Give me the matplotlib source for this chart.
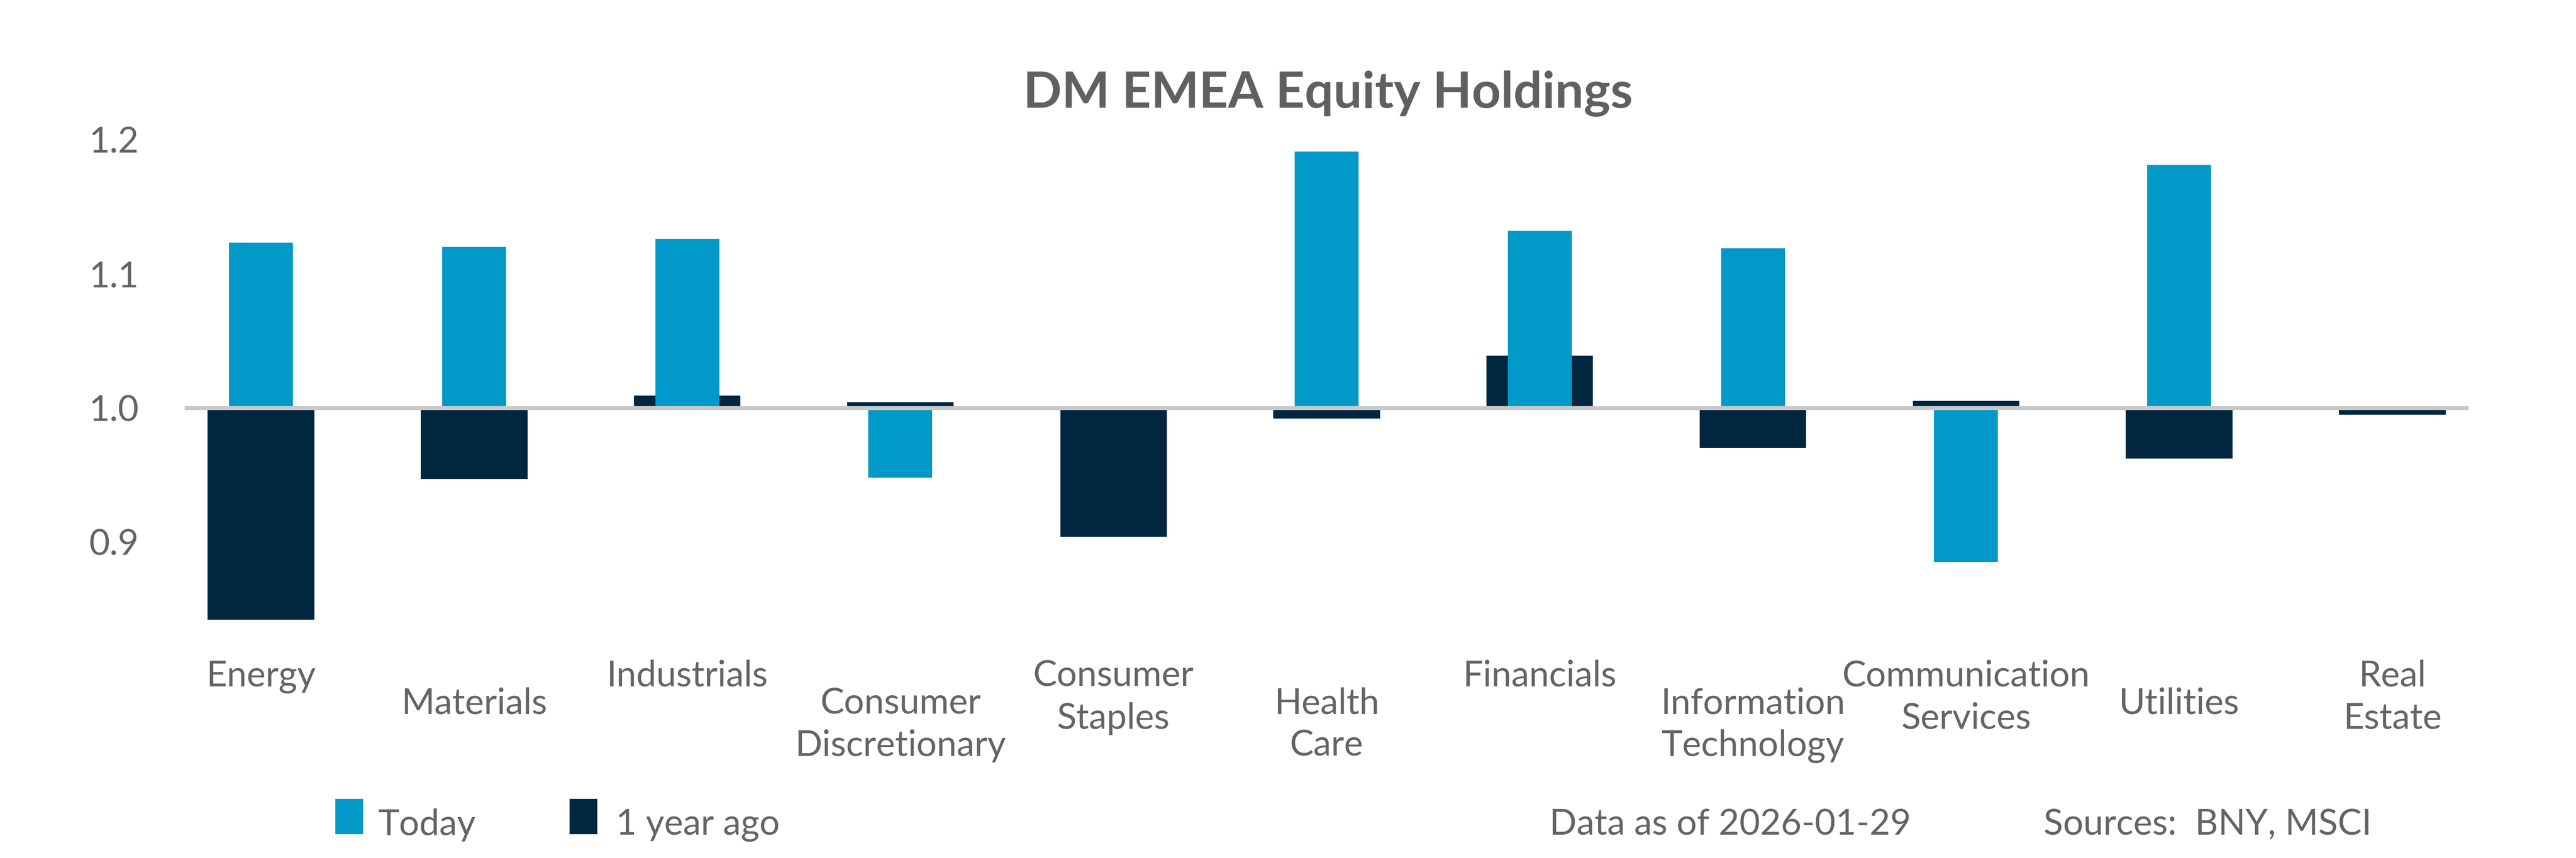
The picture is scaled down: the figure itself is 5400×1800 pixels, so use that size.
import numpy as np
import matplotlib.pyplot as plt
from matplotlib.patches import Rectangle
from matplotlib.transforms import blended_transform_factory

sectors = ["Energy", "Materials", "Industrials", "Consumer\nDiscretionary",
           "Consumer\nStaples", "Health\nCare", "Financials",
           "Information\nTechnology", "Communication\nServices", "Utilities",
           "Real\nEstate"]
today = [1.123, 1.120, 1.126, 0.948, 1.000, 1.191, 1.132, 1.119, 0.885, 1.181, 1.000]
year_ago = [0.842, 0.947, 1.009, 1.004, 0.904, 0.992, 1.039, 0.970, 1.005, 0.962, 0.995]
series_names = ["Today", "1 year ago"]
footer_date = "Data as of 2026-01-29"
footer_src = "Sources:  BNY, MSCI"

c_today = "#0099c8"
c_year = "#002640"
c_text = "#636466"

plt.rcParams['font.family'] = ['Lato', 'DejaVu Sans']

fig = plt.figure(figsize=(18, 6), dpi=300)
ax = fig.add_axes([0.0717, 0.2434, 0.8866, 0.5939])

x = np.arange(len(sectors))
base = 1.0
ax.bar(x, np.array(year_ago) - base, bottom=base, width=0.5, color=c_year, zorder=2)
ax.bar(x, np.array(today) - base, bottom=base, width=0.3, color=c_today, zorder=3)
ax.axhline(base, color="#c8c8c8", lw=2.0, zorder=4)

ax.set_xlim(-0.358, len(sectors) - 1 + 0.358)
ax.set_ylim(0.82, 1.2)
ax.set_yticks([0.9, 1.0, 1.1, 1.2])
ax.set_yticklabels(["0.9", "1.0", "1.1", "1.2"])
ax.set_xticks([])
ax.tick_params(axis='y', length=0, pad=23, labelsize=18, labelcolor=c_text)
for s in ax.spines.values():
    s.set_visible(False)

# staggered category labels
trans = blended_transform_factory(ax.transData, fig.transFigure)
for i, lab in enumerate(sectors):
    y0 = 0.2 if i % 2 == 0 else 0.1683
    for j, line in enumerate(lab.split("\n")):
        ax.text(i, y0 - j * 0.0494, line, transform=trans, ha='center',
                va='baseline', fontsize=18, color=c_text)

fig.text(0.5156, 0.8744, "DM EMEA Equity Holdings", ha='center', va='baseline',
         fontsize=25.5, fontweight='bold', color="#5f6062")

# legend + footer
leg_y = 0.0272
for px, tx, col, name in [(0.1306, 0.1469, c_today, series_names[0]),
                          (0.2215, 0.2391, c_year, series_names[1])]:
    fig.add_artist(Rectangle((px, 0.0289), 0.01, 0.0389, transform=fig.transFigure,
                             color=col))
    fig.text(tx, leg_y, name, va='baseline', fontsize=18, color=c_text)

fig.text(0.6015, leg_y, footer_date, va='baseline', fontsize=18, color=c_text)
fig.text(0.7933, leg_y, footer_src, va='baseline', fontsize=18, color=c_text)

fig.savefig("out.png", dpi=300)
